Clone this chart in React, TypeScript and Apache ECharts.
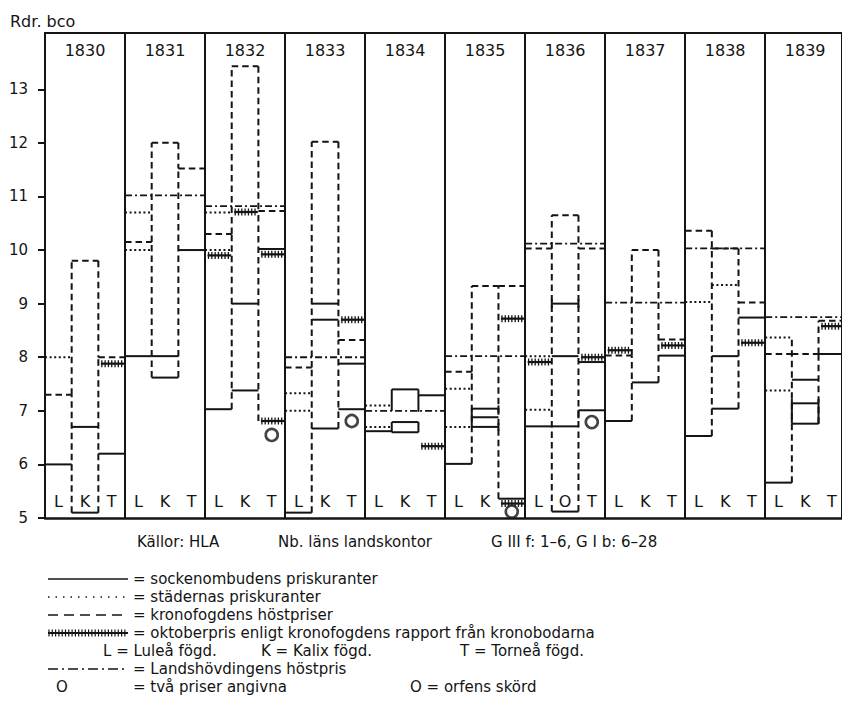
import React, { useEffect, useRef } from 'react';
import * as echarts from 'echarts';

const years = ['1830', '1831', '1832', '1833', '1834', '1835', '1836', '1837', '1838', '1839'];
const districts = ['L', 'K', 'T'];
const yTicks = [5, 6, 7, 8, 9, 10, 11, 12, 13];

// Step chains: [yearIndex, firstDistrict, ...levels] (one level per district column)
const sockenSteps: number[][] = [
  [0, 0, 6.0], [0, 1, 6.7], [0, 1, 5.1], [0, 2, 6.2],
  [1, 0, 8.02, 8.02], [1, 1, 7.62], [1, 2, 10.0],
  [2, 0, 7.03], [2, 1, 9.0], [2, 1, 7.38], [2, 2, 10.02],
  [3, 0, 5.1], [3, 1, 9.0], [3, 1, 8.7], [3, 1, 6.67], [3, 2, 7.88], [3, 2, 7.03],
  [4, 0, 6.62], [4, 1, 7.4], [4, 1, 6.79], [4, 1, 6.6], [4, 2, 7.29],
  [5, 0, 6.01], [5, 1, 7.04], [5, 1, 6.88], [5, 1, 6.7], [5, 2, 5.36],
  [6, 0, 6.71, 6.71], [6, 1, 9.0], [6, 1, 8.02], [6, 1, 5.12], [6, 2, 7.91], [6, 2, 7.01],
  [7, 0, 6.81], [7, 1, 7.53], [7, 2, 8.03],
  [8, 0, 6.53], [8, 1, 8.02], [8, 1, 7.04], [8, 2, 8.74],
  [9, 0, 5.66], [9, 1, 7.58], [9, 1, 7.14], [9, 1, 6.76], [9, 2, 8.06],
];
// Vertical strokes: [yearIndex, boundary (0..3), from, to]
const sockenVerticals: number[][] = [
  [4, 1, 7.0, 7.4], [4, 2, 6.98, 7.4], [4, 1, 6.6, 6.79], [4, 2, 6.6, 6.79],
  [5, 1, 6.88, 7.04], [5, 2, 6.96, 7.1], [5, 1, 6.7, 6.88], [5, 2, 6.63, 6.77],
  [6, 1, 8.92, 9.08], [6, 2, 8.92, 9.08], [6, 2, 6.86, 7.01],
  [9, 1, 6.76, 7.22], [9, 2, 6.76, 7.22],
];
const stadSteps: number[][] = [
  [0, 0, 8.0],
  [1, 0, 10.7], [1, 0, 10.0],
  [2, 0, 10.7], [2, 0, 10.0],
  [3, 0, 7.33], [3, 0, 7.0],
  [4, 0, 7.1], [4, 0, 6.7],
  [5, 0, 7.41], [5, 0, 6.7],
  [6, 0, 8.02], [6, 0, 7.02],
  [8, 0, 9.03], [8, 1, 9.35],
  [9, 0, 8.37], [9, 0, 7.38],
];
const kronoSteps: number[][] = [
  [0, 0, 7.3, 9.8, 8.0],
  [1, 0, 10.15, 12.0, 11.52],
  [2, 0, 10.3, 13.43, 10.73],
  [3, 0, 7.81, 12.02, 8.32],
  [5, 0, 7.73, 9.33, 9.33],
  [6, 0, 10.03, 10.65, 10.03],
  [7, 0, 8.03, 10.0, 8.33],
  [8, 0, 10.36, 10.03, 9.02],
  [9, 0, 8.06, 8.06, 8.68],
];
const kronoVerticals: number[][] = [
  [0, 1, 5.1, 7.3], [0, 2, 5.1, 8.0],
  [1, 1, 7.62, 10.15], [1, 2, 7.62, 11.52],
  [2, 1, 7.03, 10.3], [2, 2, 6.81, 10.73],
  [3, 1, 5.1, 7.81], [3, 2, 6.67, 8.32],
  [5, 1, 6.01, 7.73], [5, 2, 5.36, 9.33],
  [6, 1, 5.12, 10.03], [6, 2, 5.12, 10.03],
  [7, 1, 6.81, 8.03], [7, 2, 7.53, 8.33],
  [8, 1, 6.53, 10.03], [8, 2, 7.04, 9.02],
  [9, 1, 5.66, 8.37], [9, 2, 6.76, 8.06],
];
const oktoberSteps: number[][] = [
  [0, 2, 7.88],
  [2, 0, 9.9], [2, 1, 10.71], [2, 2, 9.92], [2, 2, 6.81],
  [3, 2, 8.7],
  [4, 2, 6.34],
  [5, 2, 8.72], [5, 2, 5.27],
  [6, 0, 7.91], [6, 2, 8.0],
  [7, 0, 8.13], [7, 2, 8.22],
  [8, 2, 8.27],
  [9, 2, 8.58],
];
// Landshövdingens höstpris, one value per year (across L, K, T)
const landshovding: (number | null)[] = [null, 11.02, 10.82, 8.0, 7.0, 8.02, 10.12, 9.02, 10.03, 8.75];
// två priser angivna: [yearIndex, district, value]
const twoPrices: number[][] = [[2, 2, 6.55], [3, 2, 6.81], [5, 2, 5.12], [6, 2, 6.79]];
// district labels that differ: [yearIndex, district, text]
const labelOverrides: [number, number, string][] = [[5, 2, ''], [6, 1, 'O']];

const FONT = '"DejaVu Sans", "Liberation Sans", sans-serif';
const INK = '#141414';

const SOLID = 0, DOTTED = 1, DASHED = 2, HATCHED = 3, DASHDOT = 4;

function stepSegments(chains: number[][], kind: number) {
  const segs: number[][] = [];
  chains.forEach((ch) => {
    const [yi, c, ...levels] = ch;
    const x0 = yi * 3 + c;
    levels.forEach((v, i) => {
      segs.push([x0 + i, v, x0 + i + 1, v, kind]);
      if (i > 0 && levels[i - 1] !== v) segs.push([x0 + i, levels[i - 1], x0 + i, v, kind]);
    });
  });
  return segs;
}
function verticalSegments(list: number[][], kind: number) {
  return list.map(([yi, b, a, c]) => [yi * 3 + b, a, yi * 3 + b, c, kind]);
}

export default function App() {
  const ref = useRef<HTMLDivElement>(null);
  useEffect(() => {
    if (!ref.current) return;
    const chart = echarts.init(ref.current, undefined, { renderer: 'svg' });

    const segs: number[][] = [];
    landshovding.forEach((v, yi) => {
      if (v != null) segs.push([yi * 3, v, yi * 3 + 3, v, DASHDOT]);
    });
    segs.push(...stepSegments(stadSteps, DOTTED));
    segs.push(...stepSegments(kronoSteps, DASHED));
    segs.push(...verticalSegments(kronoVerticals, DASHED));
    segs.push(...stepSegments(sockenSteps, SOLID));
    segs.push(...verticalSegments(sockenVerticals, SOLID));
    segs.push(...stepSegments(oktoberSteps, HATCHED));

    const textItems: { x: number; y: number; text: string; size: number }[] = [];
    years.forEach((yr, yi) => {
      textItems.push({ x: yi * 3 + 1.5, y: 13.73, text: yr, size: 16 });
      districts.forEach((d, c) => {
        const ov = labelOverrides.find((o) => o[0] === yi && o[1] === c);
        const t = ov ? ov[2] : d;
        if (t) textItems.push({ x: yi * 3 + c + 0.5, y: 5.3, text: t, size: 16 });
      });
    });

    const styleFor = (kind: number) => {
      switch (kind) {
        case DOTTED: return { stroke: INK, lineWidth: 2, lineDash: [2, 2.6] };
        case DASHED: return { stroke: INK, lineWidth: 2, lineDash: [6.5, 4] };
        case DASHDOT: return { stroke: INK, lineWidth: 1.8, lineDash: [7, 3, 2, 3] };
        default: return { stroke: INK, lineWidth: 2 };
      }
    };

    // legend helpers (pixel layout)
    const lx1 = 48, lx2 = 128;
    const hatchChildren = (x1: number, x2: number, y: number) => {
      const ch: any[] = [{ type: 'line', shape: { x1, y1: y, x2, y2: y }, style: { stroke: INK, lineWidth: 2 } }];
      for (let x = x1 + 1; x <= x2; x += 3.3) {
        ch.push({ type: 'line', shape: { x1: x, y1: y - 3.5, x2: x, y2: y + 3.5 }, style: { stroke: INK, lineWidth: 1.2 } });
      }
      return ch;
    };
    const txt = (x: number, y: number, text: string, size = 15) => ({
      type: 'text', x, y,
      style: { text, fill: INK, fontSize: size, fontFamily: FONT, verticalAlign: 'middle', align: 'left' },
    });
    const graphic: any[] = [
      txt(10, 21, 'Rdr. bco', 16),
      txt(137, 542, 'Källor: HLA'),
      txt(278, 542, 'Nb. läns landskontor'),
      txt(491, 542, 'G III f: 1–6, G I b: 6–28'),
      { type: 'line', shape: { x1: lx1, y1: 579, x2: lx2, y2: 579 }, style: { stroke: INK, lineWidth: 1.6 } },
      txt(133, 579, '= sockenombudens priskuranter'),
      { type: 'line', shape: { x1: lx1, y1: 597, x2: lx2, y2: 597 }, style: { stroke: INK, lineWidth: 1.6, lineDash: [1.5, 6] } },
      txt(133, 597, '= städernas priskuranter'),
      { type: 'line', shape: { x1: lx1, y1: 615, x2: lx2, y2: 615 }, style: { stroke: INK, lineWidth: 1.6, lineDash: [10, 6] } },
      txt(133, 615, '= kronofogdens höstpriser'),
      { type: 'group', children: hatchChildren(lx1, lx2, 633) },
      txt(133, 633, '= oktoberpris enligt kronofogdens rapport från kronobodarna'),
      txt(103, 651, 'L = Luleå fögd.'),
      txt(261, 651, 'K = Kalix fögd.'),
      txt(460, 651, 'T = Torneå fögd.'),
      { type: 'line', shape: { x1: lx1, y1: 669, x2: lx2, y2: 669 }, style: { stroke: INK, lineWidth: 1.6, lineDash: [10, 4, 2, 4] } },
      txt(133, 669, '= Landshövdingens höstpris'),
      txt(56, 687, 'O'),
      txt(133, 687, '= två priser angivna'),
      txt(410, 687, 'O = orfens skörd'),
    ];

    chart.setOption({
      animation: false,
      backgroundColor: '#fff',
      grid: { left: 45, right: 0, top: 33, bottom: 193 },
      xAxis: [
        {
          type: 'value', min: 0, max: 29.88, interval: 3,
          axisLine: { show: true, lineStyle: { color: INK, width: 2.5 } },
          axisTick: { show: false }, axisLabel: { show: false },
          splitLine: { show: true, lineStyle: { color: INK, width: 2 } },
        },
        {
          type: 'value', position: 'top', min: 0, max: 29.88,
          axisLine: { show: true, lineStyle: { color: INK, width: 2 } },
          axisTick: { show: false }, axisLabel: { show: false }, splitLine: { show: false },
        },
      ],
      yAxis: {
        type: 'value', min: 5, max: 14.05, interval: 1,
        axisLine: { show: true, lineStyle: { color: INK, width: 2 } },
        axisTick: { show: true, inside: false, length: 7, lineStyle: { color: INK, width: 2 }, customValues: yTicks },
        axisLabel: { show: true, color: INK, fontSize: 15, fontFamily: FONT, margin: 17, customValues: yTicks },
        splitLine: { show: false },
      },
      graphic,
      series: [
        {
          type: 'custom',
          coordinateSystem: 'cartesian2d',
          clip: true,
          encode: { x: [0, 2], y: [1, 3] },
          data: segs,
          renderItem: (params: any, api: any) => {
            const p1 = api.coord([api.value(0), api.value(1)]);
            const p2 = api.coord([api.value(2), api.value(3)]);
            const kind = api.value(4);
            if (kind === HATCHED) {
              const y = p1[1];
              const x1 = p1[0] + 2.5, x2 = p2[0] - 0.5;
              const ch: any[] = [{ type: 'line', shape: { x1, y1: y, x2, y2: y }, style: { stroke: INK, lineWidth: 2.2 } }];
              for (let x = x1 + 1; x <= x2; x += 3.3) {
                ch.push({ type: 'line', shape: { x1: x, y1: y - 3.5, x2: x, y2: y + 3.5 }, style: { stroke: INK, lineWidth: 1.3 } });
              }
              return { type: 'group', children: ch };
            }
            return { type: 'line', shape: { x1: p1[0], y1: p1[1], x2: p2[0], y2: p2[1] }, style: styleFor(kind) };
          },
        },
        {
          type: 'scatter',
          data: twoPrices.map(([yi, c, v]) => [yi * 3 + c + 0.5, v]),
          symbol: 'circle', symbolSize: 12,
          itemStyle: { color: '#fff', borderColor: INK, borderWidth: 2.6 },
          z: 5,
        },
        {
          type: 'custom',
          coordinateSystem: 'cartesian2d',
          data: textItems.map((t) => [t.x, t.y]),
          renderItem: (params: any, api: any) => {
            const t = textItems[params.dataIndex];
            const p = api.coord([t.x, t.y]);
            return {
              type: 'text', x: p[0], y: p[1],
              style: { text: t.text, fill: INK, fontSize: t.size, fontFamily: FONT, align: 'center', verticalAlign: 'middle' },
            };
          },
          z: 6,
        },
      ],
    });
    return () => chart.dispose();
  }, []);
  return <div ref={ref} style={{ position: 'fixed', left: 0, top: 0, width: 842, height: 711 }} />;
}
